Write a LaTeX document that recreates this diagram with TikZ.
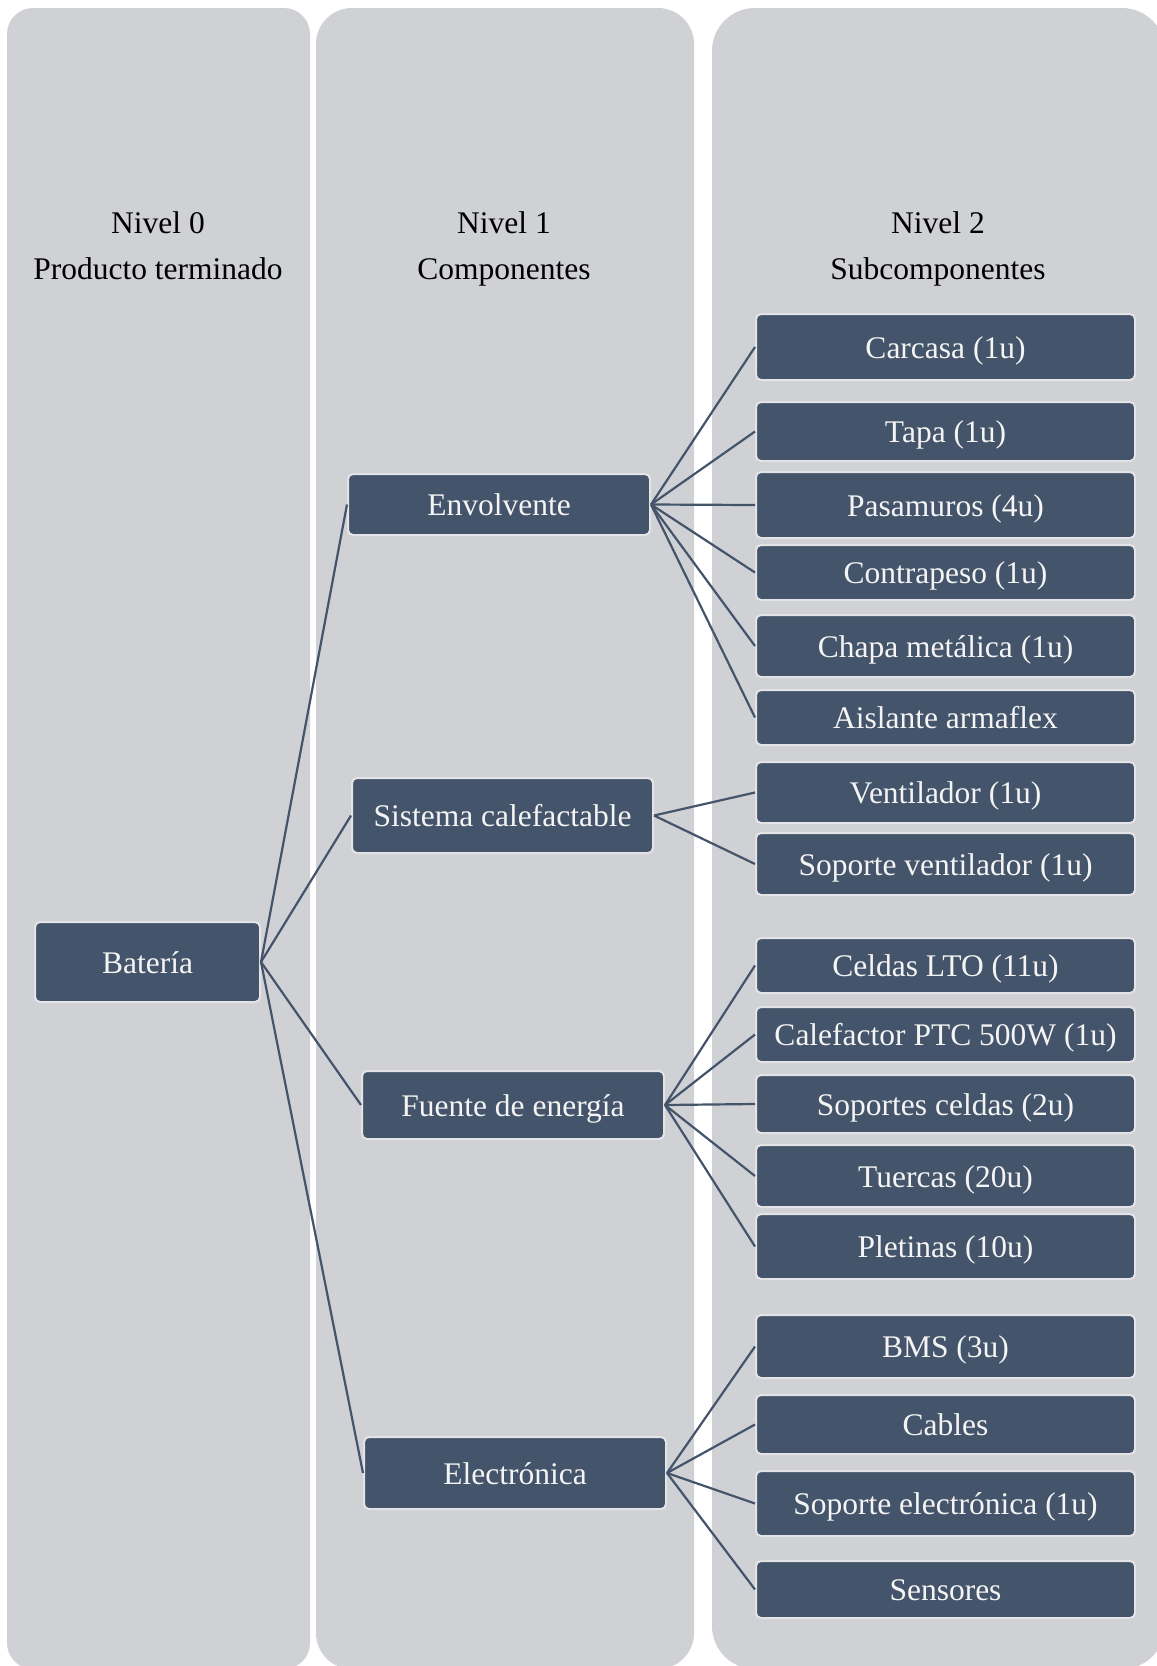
\documentclass[tikz,border=0pt]{standalone}
\usepackage{fontspec}
\setmainfont{Liberation Serif}
\definecolor{colbg}{HTML}{D0D1D5}
\definecolor{boxfill}{HTML}{44546A}
\definecolor{boxline}{HTML}{E4E4E6}
\definecolor{txtw}{HTML}{F4F4F4}
\begin{document}
\begin{tikzpicture}[x=1pt,y=-1pt,
  box/.style={draw=boxline, line width=2pt, fill=boxfill, rounded corners=5pt,
    text=txtw, inner sep=0pt, text height=23pt, text depth=1pt,
    font=\fontsize{31.5}{40}\selectfont, anchor=center},
  hdr/.style={align=center, font=\fontsize{31.5}{46}\selectfont, text=black},
  conn/.style={draw=boxfill, line width=2.2pt}]
\useasboundingbox (0,0) rectangle (1157,1666);
\clip (0,0) rectangle (1157,1666);
% columns
\fill[colbg, rounded corners=26pt] (7,8) rectangle (310,1669);
\fill[colbg, rounded corners=36pt] (316,8) rectangle (694,1669);
\fill[colbg, rounded corners=43pt] (712,8) rectangle (1165,1669);
% headers
\node[hdr] (h0) at (158,247.5) {\strut Nivel 0\\\strut Producto terminado};
\node[hdr] (h1) at (504,247.5) {\strut Nivel 1\\\strut Componentes};
\node[hdr] (h2) at (938,247.5) {\strut Nivel 2\\\strut Subcomponentes};
% level 0
\node[box, minimum width=225pt, minimum height=80pt] (bat) at (147.5,962) {Batería};
% level 1
\node[box, minimum width=302pt, minimum height=61pt] (env) at (499,504.5) {Envolvente};
\node[box, minimum width=301pt, minimum height=75pt] (sis) at (502.5,815.5) {Sistema calefactable};
\node[box, minimum width=302pt, minimum height=68pt] (fue) at (513,1105) {Fuente de energía};
\node[box, minimum width=302pt, minimum height=72pt] (ele) at (515,1473) {Electrónica};
% level 2
\tikzset{sub/.style={box, minimum width=379pt}}
\node[sub, minimum height=66pt] (a1) at (945.5,347) {Carcasa (1u)};
\node[sub, minimum height=59pt] (a2) at (945.5,431.5) {Tapa (1u)};
\node[sub, minimum height=66pt] (a3) at (945.5,505) {Pasamuros (4u)};
\node[sub, minimum height=55pt] (a4) at (945.5,572.5) {Contrapeso (1u)};
\node[sub, minimum height=62pt] (a5) at (945.5,646) {Chapa metálica (1u)};
\node[sub, minimum height=55pt] (a6) at (945.5,717.5) {Aislante armaflex};
\node[sub, minimum height=61pt] (b1) at (945.5,792.5) {Ventilador (1u)};
\node[sub, minimum height=62pt] (b2) at (945.5,864) {Soporte ventilador (1u)};
\node[sub, minimum height=55pt] (c1) at (945.5,965.5) {Celdas LTO (11u)};
\node[sub, minimum height=55pt] (c2) at (945.5,1034.5) {Calefactor PTC 500W (1u)};
\node[sub, minimum height=58pt] (c3) at (945.5,1104) {Soportes celdas (2u)};
\node[sub, minimum height=62pt] (c4) at (945.5,1176) {Tuercas (20u)};
\node[sub, minimum height=65pt] (c5) at (945.5,1246.5) {Pletinas (10u)};
\node[sub, minimum height=63pt] (d1) at (945.5,1346.5) {BMS (3u)};
\node[sub, minimum height=59pt] (d2) at (945.5,1424.5) {Cables};
\node[sub, minimum height=65pt] (d3) at (945.5,1503.5) {Soporte electrónica (1u)};
\node[sub, minimum height=57pt] (d4) at (945.5,1589.5) {Sensores};
% connectors
\foreach \c in {env,sis,fue,ele} \draw[conn] (bat.east) -- (\c.west);
\foreach \c in {a1,a2,a3,a4,a5,a6} \draw[conn] (env.east) -- (\c.west);
\foreach \c in {b1,b2} \draw[conn] (sis.east) -- (\c.west);
\foreach \c in {c1,c2,c3,c4,c5} \draw[conn] (fue.east) -- (\c.west);
\foreach \c in {d1,d2,d3,d4} \draw[conn] (ele.east) -- (\c.west);
\end{tikzpicture}
\end{document}
